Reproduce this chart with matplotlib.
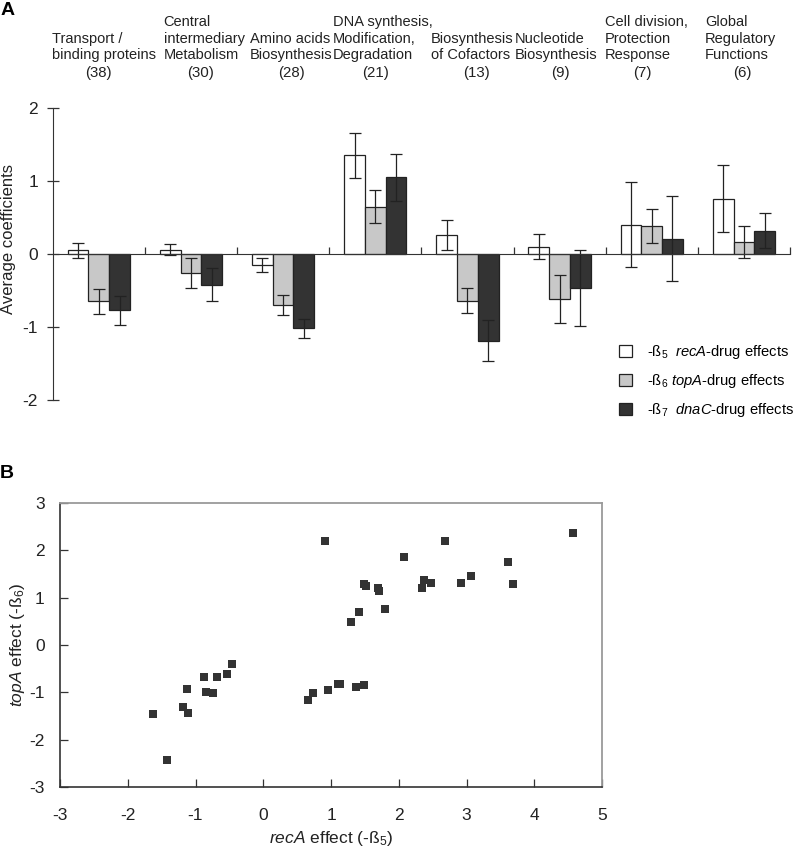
import matplotlib
matplotlib.use("Agg")
import matplotlib.pyplot as plt
from matplotlib.patches import Patch
import numpy as np

plt.rcParams['font.family'] = ['Liberation Sans', 'DejaVu Sans']
plt.rcParams['mathtext.fontset'] = 'custom'
plt.rcParams['mathtext.rm'] = 'Liberation Sans'
plt.rcParams['mathtext.it'] = 'Liberation Sans:italic'

# ---------------- data: panel A ----------------
cat_labels = ["Transport /\nbinding proteins", "Central\nintermediary\nMetabolism",
              "Amino acids\nBiosynthesis", "DNA synthesis,\nModification,\nDegradation",
              "Biosynthesis\nof Cofactors", "Nucleotide\nBiosynthesis",
              "Cell division,\nProtection\nResponse", "Global\nRegulatory\nFunctions"]
cat_counts = ["(38)", "(30)", "(28)", "(21)", "(13)", "(9)", "(7)", "(6)"]
recA = [0.05, 0.06, -0.15, 1.35, 0.26, 0.10, 0.40, 0.76]
recA_err = [0.10, 0.08, 0.09, 0.31, 0.21, 0.17, 0.58, 0.46]
topA = [-0.65, -0.26, -0.70, 0.65, -0.64, -0.62, 0.38, 0.16]
topA_err = [0.17, 0.20, 0.14, 0.22, 0.17, 0.33, 0.23, 0.22]
dnaC = [-0.77, -0.42, -1.02, 1.05, -1.19, -0.47, 0.21, 0.32]
dnaC_err = [0.20, 0.23, 0.13, 0.32, 0.28, 0.52, 0.58, 0.24]
series_labels = ['-ß$_5$  $\\mathit{recA}$-drug effects',
                 '-ß$_6$ $\\mathit{topA}$-drug effects',
                 '-ß$_7$  $\\mathit{dnaC}$-drug effects']
a_yticks = [-2, -1, 0, 1, 2]

# ---------------- data: panel B ----------------
recA_effect = [0.91, 1.48, 1.51, 1.69, 1.71, 1.79, 1.42, 1.30, -0.46,
               4.57, 2.68, 2.08, 3.61, 3.06, 2.37, 2.47, 2.92, 2.35, 3.68,
               -1.63, -1.42, -1.18, -1.11, -1.13, -0.87, -0.85, -0.74, -0.69, -0.54,
               0.66, 0.73, 0.96, 1.10, 1.14, 1.37, 1.49]
topA_effect = [2.20, 1.28, 1.25, 1.21, 1.15, 0.76, 0.70, 0.49, -0.40,
               2.37, 2.20, 1.86, 1.76, 1.45, 1.38, 1.31, 1.31, 1.21, 1.28,
               -1.46, -2.43, -1.30, -1.44, -0.92, -0.68, -0.99, -1.02, -0.68, -0.61,
               -1.16, -1.01, -0.95, -0.82, -0.82, -0.88, -0.85]
b_xticks = [-3, -2, -1, 0, 1, 2, 3, 4, 5]
b_yticks = [-3, -2, -1, 0, 1, 2, 3]

W, H = 794, 850
fig = plt.figure(figsize=(W / 100, H / 100), dpi=100)


def fx(px):
    return px / W


def fy(py):
    return 1 - py / H


# ---------------- Panel A ----------------
axA = fig.add_axes([fx(52.7), fy(400), fx(790) - fx(52.7), fy(108) - fy(400)])
n = len(recA)
x = np.arange(n) + 0.5
bw = 0.225
colors = ['white', '#c8c8c8', '#333333']
ekw = dict(ecolor='#222222', elinewidth=0.9, capsize=4, capthick=0.9)
for off, vals, errs, col in [(-bw, recA, recA_err, colors[0]),
                             (0, topA, topA_err, colors[1]),
                             (bw, dnaC, dnaC_err, colors[2])]:
    axA.bar(x + off, vals, width=bw, color=col, edgecolor='#222222', linewidth=0.9,
            yerr=errs, error_kw=ekw, zorder=2)

axA.set_xlim(0, n)
axA.set_ylim(-2, 2)
axA.spines['top'].set_visible(False)
axA.spines['right'].set_visible(False)
axA.spines['bottom'].set_position(('data', 0))
axA.spines['bottom'].set_color('#333333')
axA.spines['left'].set_color('#333333')
axA.set_xticks(np.arange(1, n + 1))
axA.set_xticklabels([])
axA.tick_params(axis='x', direction='in', length=5, width=0.9, color='#333333')
axA.set_yticks(a_yticks)
axA.set_yticklabels([str(t) for t in a_yticks])
axA.tick_params(axis='y', direction='inout', length=9, width=0.9, pad=6,
                labelsize=12.5, color='#333333', labelcolor='#222222')

fig.text(fx(9), fy(239), 'Average coefficients', rotation=90, ha='center', va='center',
         fontsize=12, color='#222222')

label_left = [52.3, 163.7, 250, 332.7, 430.7, 515, 605, 705]
count_center = [98, 201, 291.3, 375.3, 476.7, 560, 642.7, 742.7]
for lab, cnt, lx, cx in zip(cat_labels, cat_counts, label_left, count_center):
    fig.text(fx(lx), fy(62), lab, ha='left', va='bottom', fontsize=10.5,
             color='#222222', linespacing=1.22)
    fig.text(fx(cx), fy(73), cnt, ha='center', va='center', fontsize=10.8,
             color='#222222')

handles = [Patch(facecolor=c, edgecolor='#222222', linewidth=0.9) for c in colors]
fig.legend(handles, series_labels, loc='upper left',
           bbox_to_anchor=(fx(619), fy(343)), bbox_transform=fig.transFigure,
           frameon=False, handlelength=0.9, handleheight=0.9, handletextpad=1.0,
           labelspacing=0.75, borderpad=0, borderaxespad=0, fontsize=10.6)

fig.text(fx(1), fy(2), 'A', fontsize=14, fontweight='bold', ha='left', va='top')

# ---------------- Panel B ----------------
axB = fig.add_axes([fx(60), fy(787), fx(602) - fx(60), fy(503) - fy(787)])
axB.scatter(recA_effect, topA_effect, marker='s', s=26, color='#333333', zorder=3,
            linewidths=0)
axB.set_xlim(-3, 5)
axB.set_ylim(-3, 3)
axB.set_xticks(b_xticks)
axB.set_yticks(b_yticks)
axB.set_xticklabels([str(t) for t in b_xticks])
axB.set_yticklabels([str(t) for t in b_yticks])
axB.tick_params(axis='x', direction='in', length=6, width=0.9, pad=15,
                labelsize=12.5, color='#333333', labelcolor='#222222')
axB.tick_params(axis='y', direction='in', length=6, width=0.9, pad=11,
                labelsize=12.5, color='#333333', labelcolor='#222222')
for s in ['top', 'right']:
    axB.spines[s].set_color('#9a9a9a')
    axB.spines[s].set_linewidth(1.3)
for s in ['left', 'bottom']:
    axB.spines[s].set_color('#333333')
    axB.spines[s].set_linewidth(1.2)

fig.text(fx(331), fy(839), '$\\mathit{recA}$ effect (-ß$_5$)', ha='center', va='center',
         fontsize=12.5, color='#222222')
fig.text(fx(18), fy(645), '$\\mathit{topA}$ effect (-ß$_6$)', rotation=90,
         ha='center', va='center', fontsize=12.5, color='#222222')

fig.text(fx(0), fy(465), 'B', fontsize=14, fontweight='bold', ha='left', va='top')

fig.savefig('out.png', dpi=100)
